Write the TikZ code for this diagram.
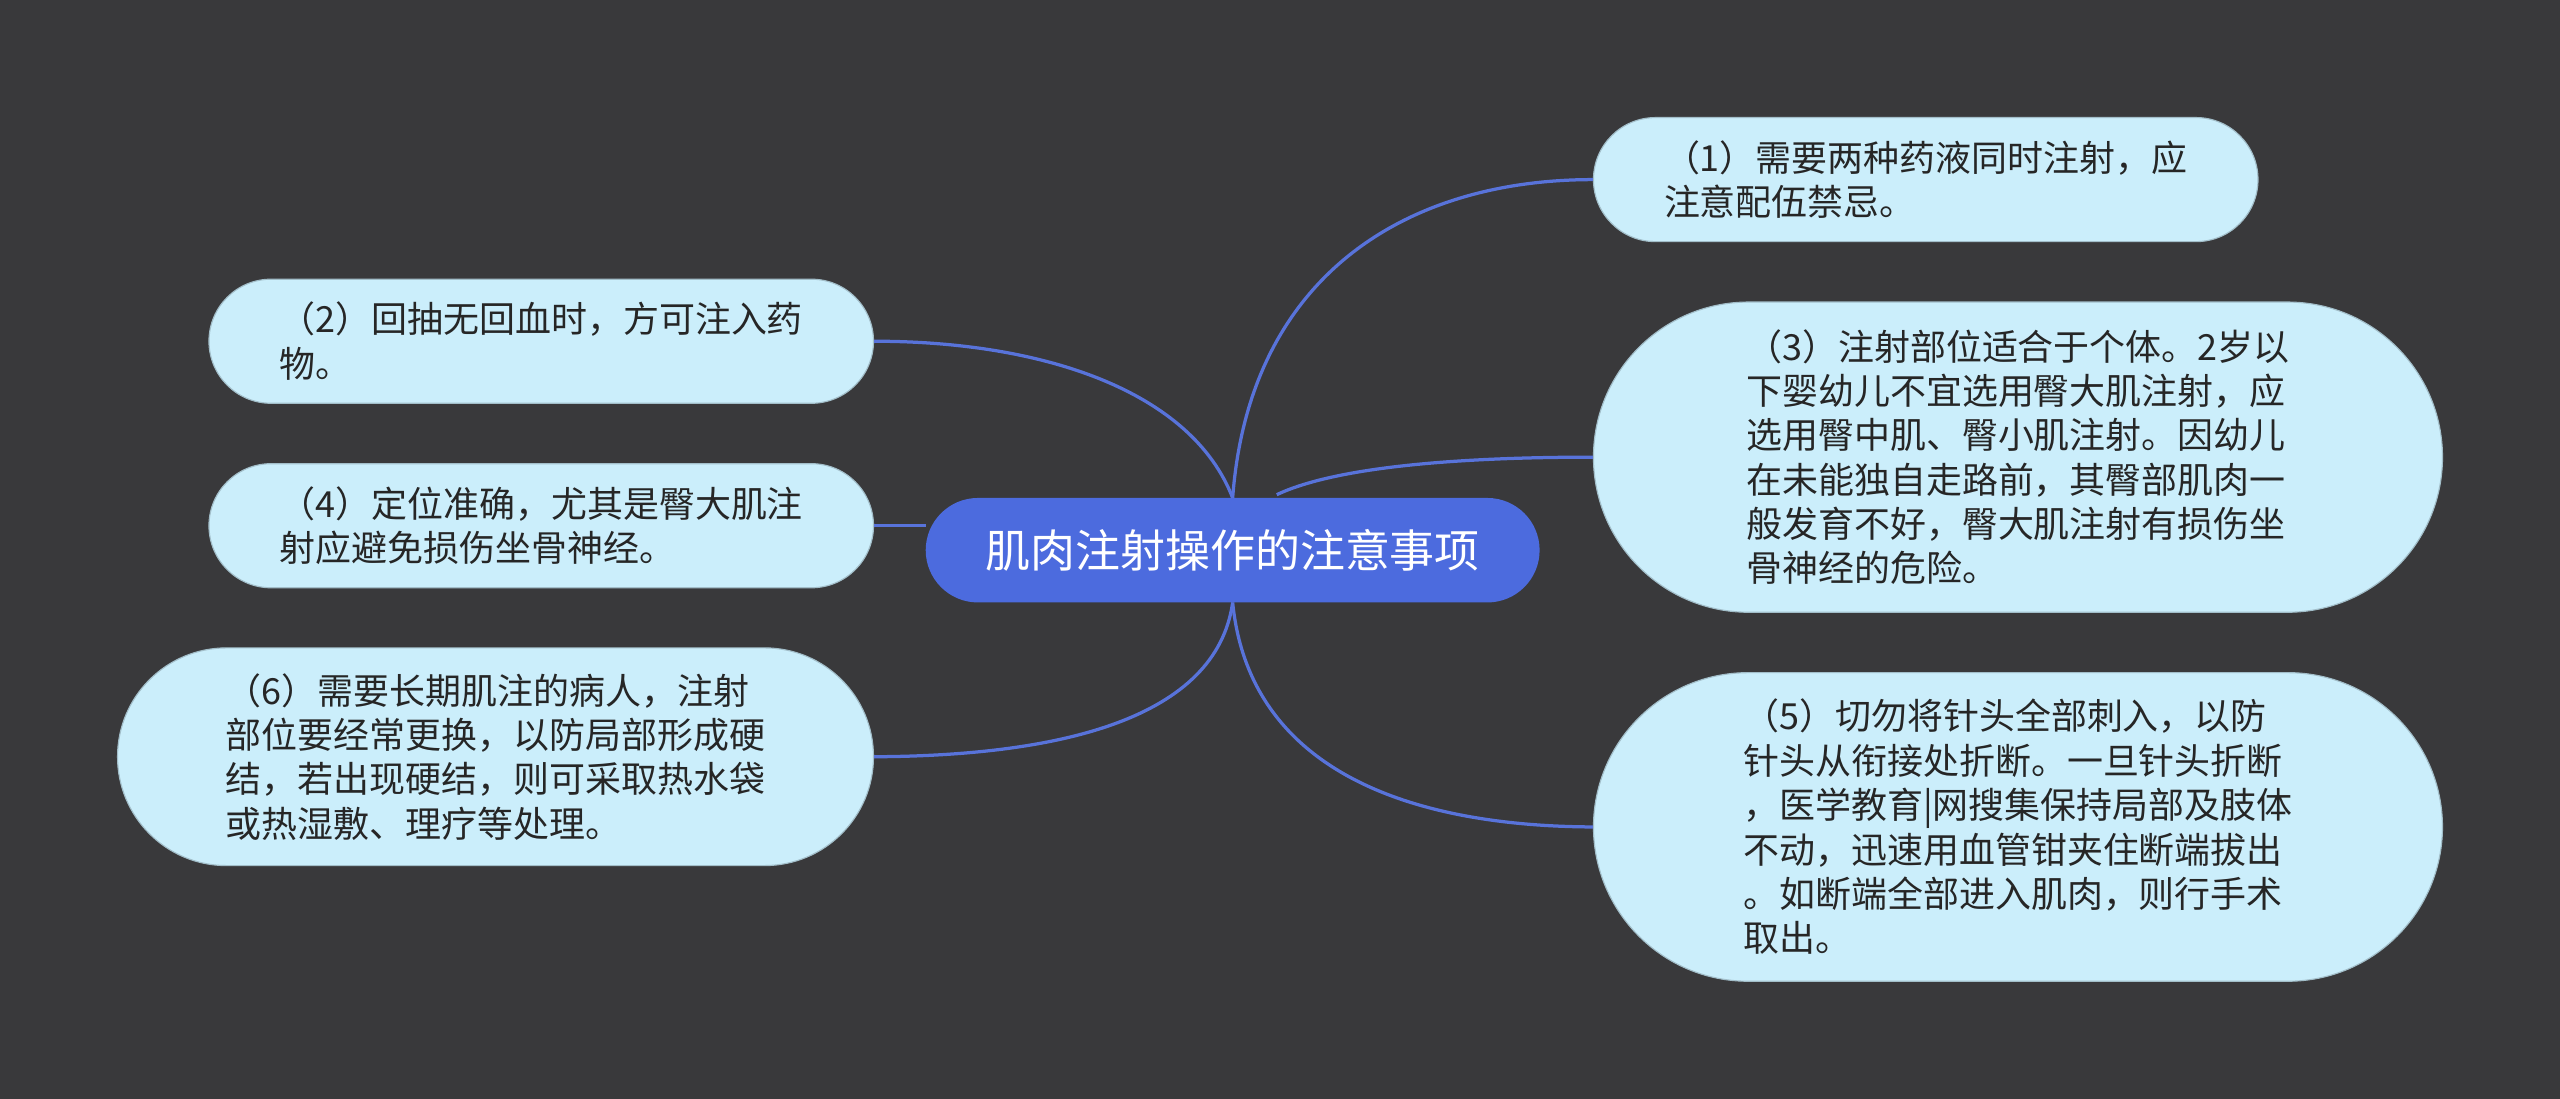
\documentclass[tikz,border=0pt]{standalone}
\usepackage{fontspec}
\setmainfont{Noto Sans CJK SC}
\definecolor{bg}{HTML}{39393B}
\definecolor{leaf}{HTML}{CBEEFB}
\definecolor{ctr}{HTML}{4C6BDE}
\definecolor{edge}{HTML}{5873DA}
\begin{document}
\begin{tikzpicture}[x=0.03cm,y=-0.03cm,
  leafbox/.style={draw=leaf!80!black,line width=0.6pt,fill=leaf,align=left,inner sep=0pt,
    font=\fontsize{18.8}{23.2}\selectfont,text=black!85},
  link/.style={draw=edge,line width=1.7pt}]
\fill[bg] (0,0) rectangle (1568,673);
\node[fill=ctr,rounded corners=0.96cm,minimum width=11.28cm,minimum height=1.92cm,text=white,
  font=\fontsize{23.5}{28}\selectfont] (c) at (755,337) {肌肉注射操作的注意事项};
\node[leafbox,rounded corners=1.14cm,minimum width=12.21cm,minimum height=2.28cm] (n1) at (1179.5,110)
 {（1）需要两种药液同时注射，应\\注意配伍禁忌。\hspace{7em}};
\node[leafbox,rounded corners=2.85cm,minimum width=15.6cm,minimum height=5.7cm] (n3) at (1236,280)
 {（3）注射部位适合于个体。2岁以\\下婴幼儿不宜选用臀大肌注射，应\\选用臀中肌、臀小肌注射。因幼儿\\在未能独自走路前，其臀部肌肉一\\般发育不好，臀大肌注射有损伤坐\\骨神经的危险。};
\node[leafbox,rounded corners=2.84cm,minimum width=15.6cm,minimum height=5.67cm] (n5) at (1236,506.5)
 {（5）切勿将针头全部刺入，以防\\针头从衔接处折断。一旦针头折断\\，医学教育|网搜集保持局部及肢体\\不动，迅速用血管钳夹住断端拔出\\。如断端全部进入肌肉，则行手术\\取出。};
\node[leafbox,rounded corners=1.14cm,minimum width=12.21cm,minimum height=2.28cm] (n2) at (331.5,209)
 {（2）回抽无回血时，方可注入药\\物。\hspace{12.5em}};
\node[leafbox,rounded corners=1.14cm,minimum width=12.21cm,minimum height=2.28cm] (n4) at (331.5,322)
 {（4）定位准确，尤其是臀大肌注\\射应避免损伤坐骨神经。};
\node[leafbox,rounded corners=2cm,minimum width=13.89cm,minimum height=4cm] (n6) at (303.5,463.5)
 {（6）需要长期肌注的病人，注射\\部位要经常更换，以防局部形成硬\\结，若出现硬结，则可采取热水袋\\或热湿敷、理疗等处理。};
\coordinate (ct) at (755,305);
\coordinate (ct2) at (782,303);
\coordinate (cb) at (755,369);
\coordinate (cl) at (567,322);
\draw[link] (ct) .. controls (765,170) and (860,110) .. (n1.west);
\draw[link] (ct2) .. controls (820,285) and (900,280) .. (n3.west);
\draw[link] (cb) .. controls (765,470) and (860,506) .. (n5.west);
\draw[link] (ct) .. controls (730,240) and (640,209) .. (n2.east);
\draw[link] (n4.east) -- (cl);
\draw[link] (cb) .. controls (745,440) and (650,463) .. (n6.east);
\end{tikzpicture}
\end{document}
